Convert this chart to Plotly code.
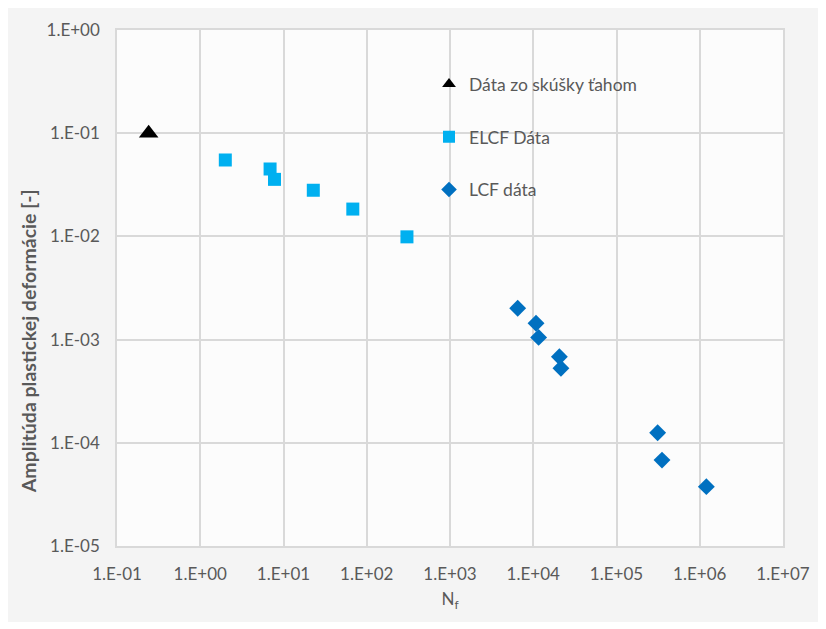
import plotly.graph_objects as go

# Data
tensile_x = [0.24]
tensile_y = [0.1]

elcf_x = [2.0, 6.9, 7.8, 22.8, 68, 304]
elcf_y = [0.055, 0.045, 0.0357, 0.028, 0.0184, 0.0099]

lcf_x = [6500, 10800, 11600, 20600, 21500, 312000, 352000, 1200000]
lcf_y = [0.00201, 0.00144, 0.00105, 0.000683, 0.000527, 0.000125, 0.000068, 0.0000376]

x_tickvals = [1e-1, 1e0, 1e1, 1e2, 1e3, 1e4, 1e5, 1e6, 1e7]
x_ticktext = ["1.E-01", "1.E+00", "1.E+01", "1.E+02", "1.E+03", "1.E+04", "1.E+05", "1.E+06", "1.E+07"]
y_tickvals = [1e-5, 1e-4, 1e-3, 1e-2, 1e-1, 1e0]
y_ticktext = ["1.E-05", "1.E-04", "1.E-03", "1.E-02", "1.E-01", "1.E+00"]

series_names = ["Dáta zo skúšky ťahom", "ELCF Dáta", "LCF dáta"]
y_title = "Amplitúda plastickej deformácie [-]"
x_title = "N<sub>f</sub>"

FONT = "Lato, 'Open Sans', sans-serif"
GRAY = "#595959"
GRID = "#d9d9d9"

fig = go.Figure()
fig.add_trace(go.Scatter(x=tensile_x, y=tensile_y, mode="markers", name=series_names[0],
                         legendgroup="a",
                         marker=dict(symbol="triangle-up", size=17, color="black")))
fig.add_trace(go.Scatter(x=elcf_x, y=elcf_y, mode="markers", name=series_names[1],
                         legendgroup="b",
                         marker=dict(symbol="square", size=13, color="#00B0F0")))
fig.add_trace(go.Scatter(x=lcf_x, y=lcf_y, mode="markers", name=series_names[2],
                         legendgroup="c",
                         marker=dict(symbol="diamond", size=13, color="#0070C0")))

fig.update_layout(
    width=811, height=614,
    margin=dict(l=109, r=36, t=22, b=76, autoexpand=False),
    paper_bgcolor="#f4f4f4",
    plot_bgcolor="rgba(0,0,0,0)",
    font=dict(family=FONT, color=GRAY, size=17),
    showlegend=True,
    legend=dict(x=0.4685, y=0.93, xanchor="left", yanchor="top",
                bgcolor="rgba(0,0,0,0)", font=dict(size=17.5, color=GRAY),
                tracegroupgap=27, itemsizing="constant"),
    shapes=[
        dict(type="rect", xref="paper", yref="paper", x0=0, x1=1, y0=0, y1=1,
             fillcolor="#fcfcfc", line=dict(width=0), layer="below"),
    ],
    annotations=[
        dict(text="<b>" + y_title + "</b>", xref="paper", yref="paper",
             x=-0.1336, y=0.397, textangle=-90, showarrow=False,
             xanchor="center", yanchor="middle",
             font=dict(size=19.5, color=GRAY, family=FONT)),
    ],
)

fig.update_xaxes(type="log", range=[-1, 7], tickvals=x_tickvals, ticktext=x_ticktext,
                 showgrid=True, gridcolor=GRID, gridwidth=1.5,
                 showline=True, linecolor=GRID, linewidth=1.5, mirror=True,
                 ticks="", ticklabelstandoff=12, tickfont=dict(size=17, color=GRAY),
                 title=dict(text=x_title, font=dict(size=17, color=GRAY), standoff=10),
                 zeroline=False)
fig.update_yaxes(type="log", range=[-5, 0], tickvals=y_tickvals, ticktext=y_ticktext,
                 showgrid=True, gridcolor=GRID, gridwidth=1.5,
                 showline=True, linecolor=GRID, linewidth=1.5, mirror=True,
                 ticks="", ticklabelstandoff=12, tickfont=dict(size=17, color=GRAY),
                 zeroline=False)

fig.write_html("out.html")
